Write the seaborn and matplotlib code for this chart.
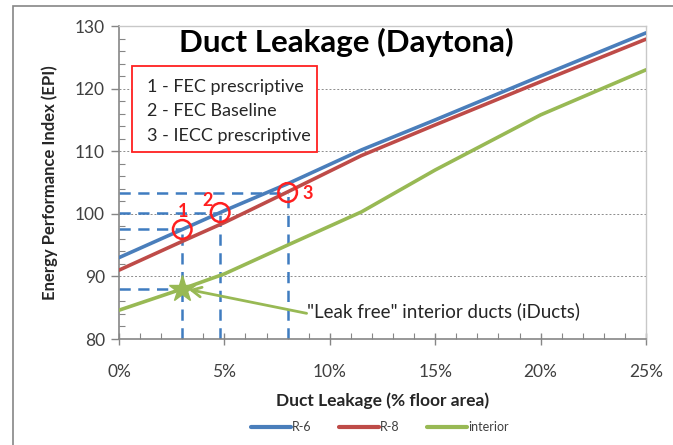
import numpy as np
import pandas as pd
import matplotlib
matplotlib.use("Agg")
import matplotlib.pyplot as plt
import matplotlib.ticker as mticker
from matplotlib.patches import Rectangle, Ellipse
import seaborn as sns

# data
leak = [0, 3, 5, 8, 11.5, 15, 20, 25]
r6 = [93.0, 97.5, 100.5, 104.8, 110.2, 115.0, 122.0, 128.9]
r8 = [91.0, 95.6, 98.6, 103.5, 109.3, 114.2, 121.1, 127.9]
interior = [84.6, 88.0, 90.4, 95.0, 100.3, 107.0, 115.8, 123.0]
series_names = ["R-6", "R-8", "interior"]

ref_x = [3, 4.8, 8]
ref_y = [97.5, 100.2, 103.4]
ref_labels = ["1", "2", "3"]
star_x, star_y = 3, 88.0

notes = ["1 - FEC prescriptive", "2 - FEC Baseline", "3 - IECC prescriptive"]

df = pd.DataFrame({
    "leak": leak * 3,
    "epi": r6 + r8 + interior,
    "series": sum([[n] * len(leak) for n in series_names], []),
})

sns.set_style("white")
plt.rcParams["font.family"] = ["Lato", "DejaVu Sans"]

colors = {"R-6": "#4A7EBB", "R-8": "#BE4B48", "interior": "#98B954"}
dash_col = "#3F7CC0"

fig = plt.figure(figsize=(6.73, 4.45), dpi=100)
ax = fig.add_axes([119 / 673, 1 - 339 / 445, (646 - 119) / 673, (339 - 26) / 445])

# outer chart frame
fig.patches.append(Rectangle((13 / 673, -0.2), 2, (1 - 6 / 445) + 0.2, transform=fig.transFigure,
                             fill=False, edgecolor="#868686", lw=1.2))

# reference dashed lines
ax.hlines(ref_y + [star_y], 0, ref_x + [star_x], colors=dash_col, lw=1.8,
          linestyles=(0, (4.5, 3)), zorder=2)
ax.vlines(ref_x, 80, ref_y, colors=dash_col, lw=1.8, linestyles=(0, (4.5, 3)), zorder=2)

sns.lineplot(data=df, x="leak", y="epi", hue="series", palette=colors, lw=2.6,
             ax=ax, legend=False, zorder=3)

# circles and labels
for x, y in zip(ref_x, ref_y):
    ax.add_patch(Ellipse((x, y), 0.88, 3.0, fill=False, edgecolor="#FF1F1F", lw=1.8, zorder=4))
dx = [0.05, -0.6, 0.93]
dy = [2.8, 2.0, -0.13]
for x, y, lab, ox, oy in zip(ref_x, ref_y, ref_labels, dx, dy):
    ax.text(x + ox, y + oy, lab, color="#FF1F1F", fontsize=13, fontweight="bold",
            ha="center", va="center", zorder=5)

ax.plot([star_x], [star_y], marker="*", ms=20, color="#98B954", zorder=5)
ax.annotate("", xy=(star_x + 0.3, star_y - 0.1), xytext=(8.9, 84.1),
            arrowprops=dict(arrowstyle="->,head_length=0.7,head_width=0.35", color="#98B954", lw=2,
                            shrinkA=0, shrinkB=0))
ax.text(8.9, 84.5, '"Leak free" interior ducts (iDucts)', fontsize=13.5, color="#262626",
        va="center", ha="left")

# text box (white fill hides the gridline behind it)
fig.patches.append(Rectangle((132 / 673, 1 - 152 / 445), 185 / 673, 86 / 445,
                             transform=fig.transFigure, facecolor="white", edgecolor="#FF2020",
                             lw=1.3, zorder=2))
for i, line in enumerate(notes):
    fig.text(147 / 673, 1 - (87 + 24.5 * i) / 445, line, fontsize=13,
             color="#262626", va="center", ha="left", zorder=3)

fig.text(346 / 673, 1 - 42 / 445, "Duct Leakage (Daytona)", fontsize=22.5, fontweight="bold",
         ha="center", va="center", color="black")

ax.set_xlim(0, 25)
ax.set_ylim(80, 130)
ax.xaxis.set_major_locator(mticker.MultipleLocator(5))
ax.xaxis.set_minor_locator(mticker.MultipleLocator(1))
ax.yaxis.set_major_locator(mticker.MultipleLocator(10))
ax.yaxis.set_minor_locator(mticker.MultipleLocator(2))
ax.xaxis.set_major_formatter(mticker.FuncFormatter(lambda v, p: f"{v:.0f}%"))
ax.grid(axis="y", which="major", color="#8c8c8c", lw=0.7, linestyle=(0, (2, 2)))
ax.tick_params(axis="x", which="major", direction="inout", length=8, width=1, color="#868686",
               labelsize=12.5, labelcolor="#404040", pad=14)
ax.tick_params(axis="x", which="minor", direction="in", length=4, width=0.8, color="#868686")
ax.tick_params(axis="y", which="major", direction="out", length=6, width=1, color="#868686",
               labelsize=12.5, labelcolor="#404040", pad=4)
ax.tick_params(axis="y", which="minor", direction="in", length=4, width=0.8, color="#868686")
ax.tick_params(bottom=True, left=True, which="both")
for s in ["left", "bottom"]:
    ax.spines[s].set_color("#868686")
    ax.spines[s].set_linewidth(1.2)
for s in ["top", "right"]:
    ax.spines[s].set_color("#c8c8c8")
    ax.spines[s].set_linewidth(1)

ax.set_xlabel("Duct Leakage (% floor area)", fontsize=12.5, fontweight="bold", labelpad=9)
ax.set_ylabel("Energy Performance Index (EPI)", fontsize=12, fontweight="bold", labelpad=12)

handles = [plt.Line2D([], [], color=colors[n], lw=3) for n in series_names]
fig.legend(handles, series_names, loc="center", bbox_to_anchor=(380 / 673, 1 - 427 / 445),
           ncol=3, frameon=False, fontsize=9, handlelength=3.2, handletextpad=0.1,
           columnspacing=2.2, labelcolor="#404040")

fig.savefig("out.png", dpi=100)
